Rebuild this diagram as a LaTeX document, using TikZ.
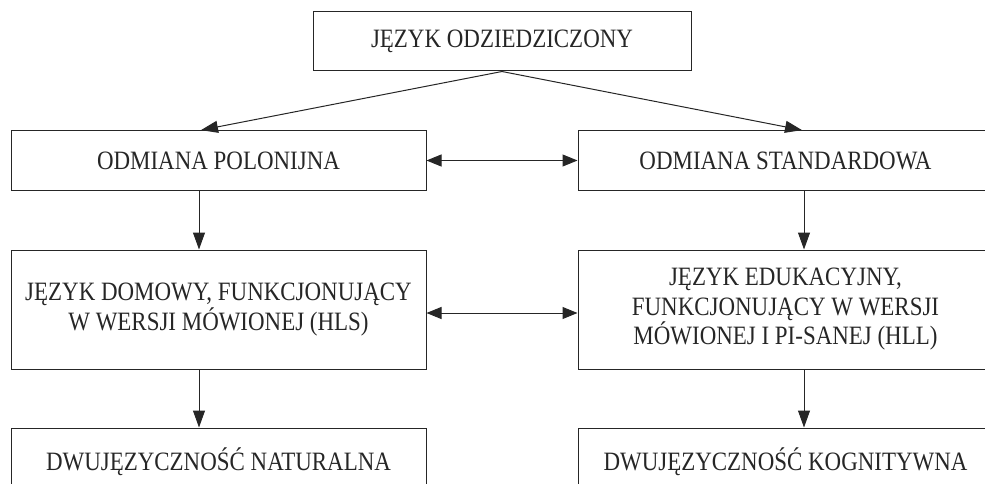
\documentclass[tikz,border=0pt]{standalone}
\usepackage{fontspec}
\setmainfont{Liberation Serif}[FakeStretch=0.866]
\usetikzlibrary{arrows.meta}

\tikzset{
  blok/.style={draw=black!85, line width=1pt, text=black!85, align=center,
    minimum width=415pt, minimum height=59pt, inner sep=0pt,
    font=\fontsize{26.5}{29.5}\selectfont},
  strz/.style={draw=black!85, line width=1pt,
    -{Triangle[length=17pt,width=12pt]}},
  strzdw/.style={draw=black!85, line width=1pt,
    {Triangle[length=15pt,width=12pt]}-{Triangle[length=15pt,width=12pt]}}
}

\begin{document}
\begin{tikzpicture}[x=1pt,y=-1pt]
                    \useasboundingbox (0,0) rectangle (985,484);
                    % Boxes:
                    \node[blok, minimum width=378pt] (jezyk) at (502, 41.5) {JĘZYK ODZIEDZICZONY};
                    \node[blok] (polon) at (218.5, 160.5) {ODMIANA POLONIJNA};
                    \node[blok] (stand) at (785.5, 160.5) {ODMIANA STANDARDOWA};
                    \node[blok, minimum height=119pt] (hls) at (218.5, 309.5) {JĘZYK DOMOWY, FUNKCJONUJĄCY\\W WERSJI MÓWIONEJ (HLS)};
                    \node[blok, minimum height=119pt] (hll) at (785.5, 309.5) {JĘZYK EDUKACYJNY,\\FUNKCJONUJĄCY W WERSJI\\MÓWIONEJ I PI-SANEJ (HLL)};
                    \node[blok, minimum height=68pt] (natur) at (218.5, 462) {DWUJĘZYCZNOŚĆ NATURALNA};
                    \node[blok, minimum height=68pt] (kogn) at (785.5, 462) {DWUJĘZYCZNOŚĆ KOGNITYWNA};
                    % Arrows:
                    \draw[strz, shorten >=2pt] (jezyk.south) -- ([xshift=-19.5pt]polon.north);
                    \draw[strz, shorten >=2pt] (jezyk.south) -- ([xshift=18.5pt]stand.north);
                    \draw[strzdw] (polon.east) -- (stand.west);
                    \draw[strzdw] ([yshift=-3.5pt]hls.east) -- ([yshift=-3.5pt]hll.west);
                    \draw[strz] ([xshift=-19.5pt]polon.south) -- ([xshift=-19.5pt]hls.north);
                    \draw[strz] ([xshift=18.5pt]stand.south) -- ([xshift=18.5pt]hll.north);
                    \draw[strz] ([xshift=-19.5pt]hls.south) -- ([xshift=-19.5pt]natur.north);
                    \draw[strz] ([xshift=18.5pt]hll.south) -- ([xshift=18.5pt]kogn.north);
                \end{tikzpicture}
\end{document}
